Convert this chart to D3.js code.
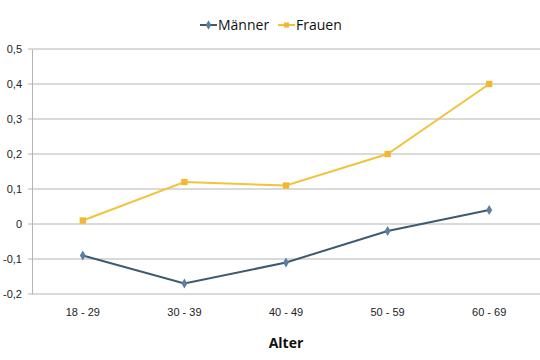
<!DOCTYPE html>
<html lang="de">
<head>
  <meta charset="UTF-8">
  <title>Männer / Frauen nach Alter</title>
  <style>
    body { margin: 0; background: #fff; font-family: "Open Sans", sans-serif; }
    svg { display: block; }
    .tick text { fill: #222; font-size: 11px; }
  </style>
  <script src="https://d3js.org/d3.v7.min.js"></script>
</head>
<body>
<div id="chart"></div>
<script>
  const categories = ["18 - 29", "30 - 39", "40 - 49", "50 - 59", "60 - 69"];
  const maenner = [-0.09, -0.17, -0.11, -0.02, 0.04];
  const frauen = [0.01, 0.12, 0.11, 0.20, 0.40];
  const yTicks = [-0.2, -0.1, 0, 0.1, 0.2, 0.3, 0.4, 0.5];

  const width = 540, height = 360;
  const margin = { top: 49, right: 0, bottom: 66, left: 32 };

  const svg = d3.select("#chart").append("svg")
    .attr("width", width)
    .attr("height", height);

  const x = d3.scaleBand()
    .domain(categories)
    .range([margin.left, width - margin.right]);

  const y = d3.scaleLinear()
    .domain([-0.2, 0.5])
    .range([height - margin.bottom, margin.top]);

  const fmt = d => d === 0 ? "0" : d3.format(".1f")(d).replace(".", ",").replace("−", "-");

  // gridlines
  svg.append("g")
    .selectAll("line")
    .data(yTicks)
    .join("line")
    .attr("x1", margin.left - 4)
    .attr("x2", width - margin.right)
    .attr("y1", d => y(d))
    .attr("y2", d => y(d))
    .attr("stroke", "#b4b4b4")
    .attr("stroke-width", 1);

  // y axis labels
  const yAxis = svg.append("g")
    .attr("transform", `translate(${margin.left},0)`)
    .call(d3.axisLeft(y).tickValues(yTicks).tickFormat(fmt).tickSize(0).tickPadding(10));
  yAxis.select(".domain").attr("stroke", "#b4b4b4");

  // x axis labels
  const xAxis = svg.append("g")
    .attr("transform", `translate(0,${y(-0.2)})`)
    .call(d3.axisBottom(x).tickSize(0).tickPadding(14));
  xAxis.select(".domain").remove();

  svg.append("text")
    .attr("x", (margin.left + width) / 2)
    .attr("y", 348)
    .attr("text-anchor", "middle")
    .attr("font-size", 14)
    .attr("font-weight", "bold")
    .attr("fill", "#111")
    .text("Alter");

  const series = [
    { name: "Männer", values: maenner, color: "#3e5a6e", marker: "#5a7fa0", symbol: d3.symbolDiamond },
    { name: "Frauen", values: frauen, color: "#f0c43c", marker: "#f2b630", symbol: d3.symbolSquare }
  ];

  const line = d3.line()
    .x((d, i) => x(categories[i]) + x.bandwidth() / 2)
    .y(d => y(d));

  series.forEach(s => {
    svg.append("path")
      .datum(s.values)
      .attr("d", line)
      .attr("fill", "none")
      .attr("stroke", s.color)
      .attr("stroke-width", 2);

    svg.append("g")
      .selectAll("path")
      .data(s.values)
      .join("path")
      .attr("transform", (d, i) => `translate(${x(categories[i]) + x.bandwidth() / 2},${y(d)})`)
      .attr("d", d3.symbol().type(s.symbol).size(s.symbol === d3.symbolSquare ? 40 : 30))
      .attr("fill", s.marker);
  });

  // legend
  const legend = svg.append("g").attr("transform", "translate(200,25)");
  const legendX = [0, 78];
  series.forEach((s, i) => {
    const g = legend.append("g").attr("transform", `translate(${legendX[i]},0)`);
    g.append("line")
      .attr("x1", 0).attr("x2", 17)
      .attr("stroke", s.color).attr("stroke-width", 2);
    g.append("path")
      .attr("transform", "translate(8.5,0)")
      .attr("d", d3.symbol().type(s.symbol).size(26))
      .attr("fill", s.marker);
    g.append("text")
      .attr("x", 18)
      .attr("dy", "0.35em")
      .attr("font-size", 14)
      .attr("fill", "#111")
      .text(s.name);
  });
</script>
</body>
</html>
